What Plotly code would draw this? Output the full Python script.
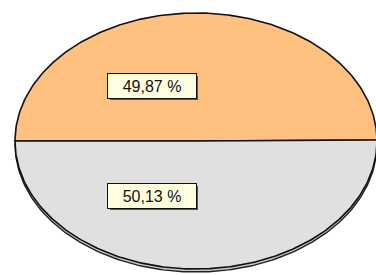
import numpy as np
import plotly.graph_objects as go

labels = ["A", "B"]
values = [49.87, 50.13]
colors = ["#FFC080", "#E0E0E0"]
text_labels = ["49,87 %", "50,13 %"]

W, H = 376, 275
cx, cy, rx, ry = 196, 141, 181, 128
depth = 3

fig = go.Figure()

# rim (3D depth) - bottom half shifted down
t = np.linspace(0, np.pi, 200)
xs = cx + rx * np.cos(t)
ys = cy + depth + ry * np.sin(t)
fig.add_trace(go.Scatter(x=np.concatenate([xs, [xs[0]]]), y=np.concatenate([ys, [ys[0]]]),
                         mode="lines", fill="toself", fillcolor="#C8C8C8",
                         line=dict(color="#222222", width=1.4), hoverinfo="skip", showlegend=False))

total = sum(values)
ang = np.pi
mids = []
for v, c, lab in zip(values, colors, labels):
    sweep = 2 * np.pi * v / total
    a = np.linspace(ang, ang + sweep, 200)
    px = cx + rx * np.cos(a)
    py = cy + ry * np.sin(a)
    fig.add_trace(go.Scatter(x=np.concatenate([[cx], px, [cx]]), y=np.concatenate([[cy], py, [cy]]),
                             mode="lines", fill="toself", fillcolor=c,
                             line=dict(color="#111111", width=1.6), name=lab,
                             hoverinfo="skip", showlegend=False))
    mids.append(ang + sweep / 2)
    ang += sweep

for m, txt in zip(mids, text_labels):
    lx = cx - 44
    ly = cy + ry * 0.43 * np.sign(np.sin(m))
    fig.add_shape(type="rect", x0=lx - 44 + 2, x1=lx + 44 + 2, y0=ly - 12 + 2, y1=ly + 12 + 2,
                  fillcolor="#555555", line=dict(width=0), layer="above")
    fig.add_annotation(x=lx, y=ly, text=txt, showarrow=False,
                       font=dict(family="Liberation Sans, Arial", size=16, color="#111111"),
                       bgcolor="#FFFFE0", bordercolor="#111111", borderwidth=1, borderpad=2,
                       width=84, height=20)

fig.update_xaxes(range=[0, W], visible=False, fixedrange=True)
fig.update_yaxes(range=[H, 0], visible=False, fixedrange=True)
fig.update_layout(width=W, height=H, margin=dict(l=0, r=0, t=0, b=0),
                  plot_bgcolor="white", paper_bgcolor="white")
fig.write_html("out.html", config={"displayModeBar": False},
               post_script="document.body.style.margin='0';")
